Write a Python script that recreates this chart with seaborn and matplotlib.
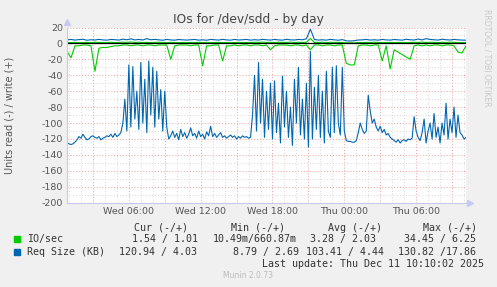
import numpy as np
import pandas as pd
import matplotlib
matplotlib.use("Agg")
import matplotlib.pyplot as plt
import matplotlib.dates as mdates
from matplotlib.ticker import MultipleLocator, FuncFormatter
import seaborn as sns

# ---------------- data ----------------
start_time = "2025-12-10 00:50"
coarse_step = "20min"   # IO/sec and write request size samples
fine_step = "10min"     # read request size samples

# IO/sec (read drawn as negative, write as positive)
io_read = [10, 18, 3, 3, 2, 2, 3, 35, 6, 5,
           5, 4, 3, 3, 2, 2, 3, 2, 2, 3,
           2, 2, 3, 2, 2, 2, 20, 3, 2, 2,
           2, 3, 2, 2, 28, 3, 3, 2, 2, 22,
           3, 3, 2, 3, 2, 2, 3, 2, 2, 3,
           2, 8, 3, 2, 2, 2, 3, 2, 2, 3,
           2, 8, 2, 2, 3, 2, 2, 3, 2, 2,
           25, 27, 27, 3, 2, 2, 3, 2, 2, 22,
           3, 32, 8, 11, 14, 17, 20, 3, 2, 3,
           2, 3, 2, 2, 3, 2, 2, 3, 11, 12,
           3]
io_write = [1.2, 1.0, 1.4, 0.9, 1.1, 1.3, 1.0, 1.5, 1.2, 1.0,
            1.1, 1.4, 1.0, 1.2, 1.6, 1.3, 1.8, 1.2, 1.5, 1.1,
            1.3, 1.0, 1.2, 1.5, 1.1, 1.0, 1.3, 1.2, 0.9, 1.1,
            1.0, 1.2, 1.1, 1.4, 1.0, 1.2, 1.0, 1.1, 1.3, 1.0,
            1.2, 1.0, 1.1, 1.3, 1.0, 1.2, 1.1, 1.5, 1.3, 1.6,
            1.2, 1.4, 1.1, 1.5, 1.3, 1.2, 1.6, 1.1, 1.4, 1.2,
            1.5, 6.2, 1.3, 1.2, 1.5, 1.1, 1.4, 1.2, 1.3, 1.1,
            0.7, 0.8, 0.7, 1.2, 1.0, 1.3, 1.1, 1.5, 1.2, 1.0,
            1.1, 1.3, 1.0, 1.2, 1.1, 1.0, 1.2, 1.4, 1.3, 1.6,
            1.2, 1.5, 1.3, 1.1, 1.4, 1.2, 1.6, 1.3, 1.1, 1.0,
            1.0]

# Request size in KB, read (drawn as negative) at 10 min resolution
req_read = [125, 126, 127, 126, 124, 121, 117, 119, 114, 118,
            121, 120, 117, 116, 118, 119, 117, 121, 119, 118,
            116, 117, 114, 118, 113, 117, 115, 112, 100, 70,
            110, 27, 105, 29, 95, 60, 108, 24, 100, 45,
            112, 22, 90, 30, 105, 35, 95, 58, 110, 60,
            105, 120, 116, 110, 118, 113, 121, 108, 117, 112,
            119, 114, 106, 116, 113, 119, 110, 117, 114, 120,
            111, 116, 104, 117, 113, 118, 115, 112, 118, 116,
            119, 117, 115, 118, 116, 120, 117, 119, 116, 118,
            117, 119, 118, 90, 40, 110, 24, 100, 45, 118,
            60, 108, 50, 120, 47, 112, 75, 125, 41, 105,
            60, 118, 80, 128, 45, 100, 30, 115, 70, 120,
            50, 130, 10, 120, 55, 108, 40, 118, 60, 125,
            35, 110, 118, 30, 112, 28, 100, 115, 30, 110,
            122, 123, 123, 124, 124, 122, 112, 100, 108, 113,
            110, 65, 85, 100, 95, 105, 110, 104, 112, 108,
            115, 113, 118, 120, 122, 124, 121, 125, 122, 121,
            123, 120, 121, 119, 92, 110, 118, 122, 112, 95,
            125, 110, 100, 120, 88, 118, 105, 125, 100, 115,
            75, 120, 95, 112, 80, 118, 90, 112, 115, 120,
            118]
# Request size in KB, write (positive) at 20 min resolution
req_write = [4.5, 5.0, 4.2, 4.8, 5.2, 4.0, 4.6, 4.3, 5.1, 4.4,
             4.1, 5.0, 4.7, 4.2, 5.3, 4.6, 5.8, 4.4, 5.0, 4.3,
             6.0, 4.6, 5.1, 4.5, 4.0, 5.0, 4.4, 4.1, 4.9, 4.5,
             4.2, 4.6, 5.0, 4.1, 4.5, 4.0, 5.0, 4.6, 4.2, 5.1,
             4.4, 4.1, 5.0, 4.3, 4.6, 5.0, 4.1, 4.7, 4.2, 5.1,
             4.6, 4.2, 5.0, 4.4, 4.1, 5.2, 4.5, 4.3, 5.0, 4.6,
             5.8, 17.86, 5.0, 4.2, 4.6, 4.1, 5.1, 4.5, 4.0, 4.8,
             3.2, 3.0, 3.4, 4.3, 4.5, 5.0, 4.2, 4.6, 4.1, 5.0,
             4.4, 4.2, 4.9, 4.5, 4.1, 5.2, 4.6, 4.3, 5.5, 4.4,
             6.0, 5.0, 4.6, 4.2, 5.3, 4.6, 4.3, 5.0, 4.5, 4.2,
             4.0]

series_names = ["IO/sec", "Req Size (KB)"]
series_colors = ["#00CC00", "#0066B3"]
col_headers = ["Cur (-/+)", "Min (-/+)", "Avg (-/+)", "Max (-/+)"]
stats_rows = [["1.54 / 1.01", "10.49m/660.87m", "3.28 / 2.03", "34.45 / 6.25"],
              ["120.94 / 4.03", "8.79 / 2.69", "103.41 / 4.44", "130.82 /17.86"]]
title_text = "IOs for /dev/sdd - by day"
ylabel_text = "Units read (-) / write (+)"
last_update = "Last update: Thu Dec 11 10:10:02 2025"
footer_text = "Munin 2.0.73"
side_text = "RRDTOOL / TOBI OETIKER"

t_coarse = pd.date_range(start_time, periods=len(io_read), freq=coarse_step)
t_fine = pd.date_range(start_time, periods=len(req_read), freq=fine_step)

# ---------------- figure ----------------
sns.set_style("white")
plt.rcParams["font.family"] = ["DejaVu Sans"]

W, H = 497, 287
fig = plt.figure(figsize=(W / 100, H / 100), dpi=100, facecolor="#F0F0F0")
L, R, T, B = 67, 466, 27.5, 202.7
ax = fig.add_axes([L / W, 1 - B / H, (R - L) / W, (B - T) / H])
ax.set_facecolor("white")

# grid
ax.xaxis.set_major_locator(mdates.HourLocator(byhour=range(0, 24, 3)))
ax.xaxis.set_minor_locator(mdates.HourLocator())
ax.yaxis.set_major_locator(MultipleLocator(20))
ax.yaxis.set_minor_locator(MultipleLocator(10))
ax.grid(which="minor", color="#D8D8D8", linestyle=(0, (1, 2)), linewidth=0.7)
ax.grid(which="major", color="#E8A0A0", linestyle=(0, (1, 2)), linewidth=0.7)
ax.set_axisbelow(True)

def xfmt(x, pos):
    d = mdates.num2date(x)
    return d.strftime("%a %H:%M") if d.hour % 6 == 0 else ""
ax.xaxis.set_major_formatter(FuncFormatter(xfmt))
ax.yaxis.set_major_formatter(FuncFormatter(lambda v, p: f"{v:.0f}"))

# lines
g, b = series_colors
sns.lineplot(x=t_coarse, y=-np.array(io_read), ax=ax, color=g, linewidth=0.8)
sns.lineplot(x=t_coarse, y=np.array(io_write), ax=ax, color=g, linewidth=0.8)
sns.lineplot(x=t_fine, y=-np.array(req_read), ax=ax, color=b, linewidth=0.8)
sns.lineplot(x=t_coarse, y=np.array(req_write), ax=ax, color=b, linewidth=0.8)
ax.axhline(0, color="black", linewidth=0.9)

ax.set_xlim(t_coarse[0], t_coarse[-1])
ax.set_ylim(-200, 20)
ax.set_xlabel("")
ax.set_ylabel("")

for s in ["top", "right"]:
    ax.spines[s].set_visible(False)
for s in ["left", "bottom"]:
    ax.spines[s].set_color("#C8C8F0")
    ax.spines[s].set_linewidth(0.8)
ax.plot([0], [1.03], marker="^", color="#C8C8F0", markersize=4,
        transform=ax.transAxes, clip_on=False)
ax.plot([1.01], [0], marker=">", color="#C8C8F0", markersize=4,
        transform=ax.transAxes, clip_on=False)

ax.tick_params(axis="both", which="both", length=0, labelsize=6.8,
               labelcolor="#555555", pad=3)

# texts
fig.text(0.5, 1 - 19 / H, title_text, ha="center", va="center",
         fontsize=8.8, color="#444444")
fig.text(10 / W, 1 - 115 / H, ylabel_text, rotation=90, ha="center",
         va="center", fontsize=7, color="#555555")
fig.text(487 / W, 1 - 58 / H, side_text, rotation=270, ha="center",
         va="center", fontsize=5.5, color="#C8C8C8")

mono = dict(family="DejaVu Sans Mono", fontsize=7.2, color="#333333",
            va="center", ha="left")
for hx, hdr in zip([134.3, 231, 327.7, 423.3], col_headers):
    fig.text(hx / W, 1 - 227.7 / H, hdr, **mono)
row_y = [239.3, 251.7]
starts = [[131.7, 213, 310, 404.3], [119.3, 233, 305.7, 398.3]]
for name, color, yy, vals, xs in zip(series_names, series_colors, row_y,
                                     stats_rows, starts):
    fig.patches.append(plt.Rectangle((14 / W, 1 - (yy + 2.8) / H), 6 / W,
                                     6 / H, transform=fig.transFigure,
                                     color=color))
    fig.text(26.7 / W, 1 - yy / H, name, **mono)
    for vx, v in zip(xs, vals):
        fig.text(vx / W, 1 - yy / H, v, **mono)
fig.text(261.7 / W, 1 - 263.7 / H, last_update, **mono)
fig.text(248 / W, 1 - 276 / H, footer_text, ha="center", va="center",
         fontsize=5.5, color="#BBBBBB")

fig.savefig("out.png", dpi=100, facecolor=fig.get_facecolor())
